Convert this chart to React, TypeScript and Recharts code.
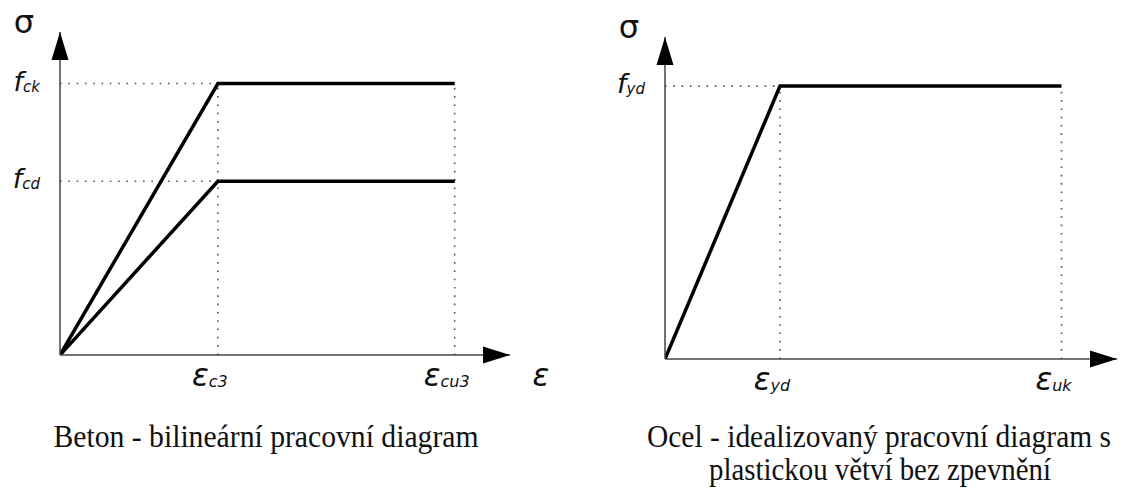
import React from 'react';
import { LineChart, Line, XAxis, YAxis, ReferenceLine, ReferenceDot } from 'recharts';

// Concrete – bilinear stress–strain diagram (normalised units)
const concreteStrain = [0, 0.4, 1.0];
const concreteFck = [0, 1.0, 1.0];
const concreteFcd = [0, 0.64, 0.64];
const concreteStrainTicks = [0.4, 1.0];
const concreteStrainLabels = [['ε', 'c3'], ['ε', 'cu3']];
const concreteStressTicks = [0.64, 1.0];
const concreteStressLabels = [['f', 'cd'], ['f', 'ck']];
const concreteAxisMax = { x: 1.14, y: 1.19 };

// Steel – idealised diagram with a plastic branch, no hardening
const steelStrain = [0, 0.29, 1.0];
const steelFyd = [0, 1.0, 1.0];
const steelStrainTicks = [0.29, 1.0];
const steelStrainLabels = [['ε', 'yd'], ['ε', 'uk']];
const steelStressTicks = [1.0];
const steelStressLabels = [['f', 'yd']];
const steelAxisMax = { x: 1.14, y: 1.18 };

const captionConcrete = ['Beton - bilineární pracovní diagram'];
const captionSteel = ['Ocel - idealizovaný pracovní diagram s', 'plastickou větví bez zpevnění'];

const SYM_FONT = '"DejaVu Sans", sans-serif';
const AXIS_COLOR = '#444';
const GUIDE = { stroke: '#555', strokeWidth: 1.6, strokeDasharray: '1.6 6.7' };

const makeYTick = (ticks: number[], labels: string[][]) => (props: any) => {
  const { x, y, payload } = props;
  const idx = ticks.indexOf(payload.value);
  if (idx < 0) return null;
  const [base, sub] = labels[idx];
  return (
    <text x={x - 20} y={y + 7} textAnchor="end" fontFamily={SYM_FONT} fill="#111">
      <tspan fontSize={27} fontStyle="italic">{base}</tspan>
      <tspan fontSize={15} fontStyle="italic" dy={1}>{sub}</tspan>
    </text>
  );
};

const makeXTick = (ticks: number[], labels: string[][]) => (props: any) => {
  const { x, y, payload } = props;
  const idx = ticks.indexOf(payload.value);
  if (idx < 0) return null;
  const [base, sub] = labels[idx];
  return (
    <text x={x - 8} y={y + 31} textAnchor="middle" fontFamily={SYM_FONT} fill="#111">
      <tspan fontSize={31} fontStyle="italic">{base}</tspan>
      <tspan fontSize={16} fontStyle="italic" dy={1}>{sub}</tspan>
    </text>
  );
};

const ArrowRight = (label?: string) => (props: any) => {
  const { cx, cy } = props;
  return (
    <g>
      <polygon points={`${cx},${cy} ${cx - 27},${cy - 8.5} ${cx - 27},${cy + 8.5}`} fill="#000" />
      {label ? (
        <text x={cx + 31} y={cy + 31} textAnchor="middle" fontFamily={SYM_FONT} fontSize={31} fontStyle="italic" fill="#111">
          {label}
        </text>
      ) : null}
    </g>
  );
};

const ArrowUp = (label: string) => (props: any) => {
  const { cx, cy } = props;
  return (
    <g>
      <polygon points={`${cx},${cy} ${cx - 8.5},${cy + 28} ${cx + 8.5},${cy + 28}`} fill="#000" />
      <text x={cx - 36} y={cy + 1} textAnchor="middle" fontFamily={SYM_FONT} fontSize={32} fill="#111">
        {label}
      </text>
    </g>
  );
};

const ConcreteChart = () => {
  const data = concreteStrain.map((x, i) => ({ x, fck: concreteFck[i], fcd: concreteFcd[i] }));
  const epsC3 = concreteStrainTicks[0];
  const epsCu3 = concreteStrainTicks[1];
  const fck = concreteStressTicks[1];
  const fcd = concreteStressTicks[0];
  return (
    <LineChart width={560} height={495} data={data} margin={{ top: 32, right: 50, left: 20, bottom: 100 }}>
      <XAxis
        dataKey="x"
        type="number"
        domain={[0, concreteAxisMax.x]}
        allowDataOverflow
        ticks={concreteStrainTicks}
        tickLine={false}
        tickSize={0}
        tickMargin={0}
        height={40}
        axisLine={{ stroke: AXIS_COLOR, strokeWidth: 1.5 }}
        tick={makeXTick(concreteStrainTicks, concreteStrainLabels)}
        interval={0}
      />
      <YAxis
        type="number"
        domain={[0, concreteAxisMax.y]}
        allowDataOverflow
        ticks={concreteStressTicks}
        tickLine={false}
        tickSize={0}
        tickMargin={0}
        width={40}
        axisLine={{ stroke: AXIS_COLOR, strokeWidth: 1.5 }}
        tick={makeYTick(concreteStressTicks, concreteStressLabels)}
        interval={0}
      />
      <ReferenceLine segment={[{ x: 0, y: fck }, { x: epsC3, y: fck }]} {...GUIDE} />
      <ReferenceLine segment={[{ x: 0, y: fcd }, { x: epsC3, y: fcd }]} {...GUIDE} />
      <ReferenceLine segment={[{ x: epsC3, y: 0 }, { x: epsC3, y: fck }]} {...GUIDE} />
      <ReferenceLine segment={[{ x: epsCu3, y: 0 }, { x: epsCu3, y: fck }]} {...GUIDE} />
      <Line dataKey="fck" type="linear" stroke="#000" strokeWidth={3.5} dot={false} isAnimationActive={false} />
      <Line dataKey="fcd" type="linear" stroke="#000" strokeWidth={3.5} dot={false} isAnimationActive={false} />
      <ReferenceDot x={concreteAxisMax.x} y={0} r={0} ifOverflow="visible" shape={ArrowRight('ε')} />
      <ReferenceDot x={0} y={concreteAxisMax.y} r={0} ifOverflow="visible" shape={ArrowUp('σ')} />
    </LineChart>
  );
};

const SteelChart = () => {
  const data = steelStrain.map((x, i) => ({ x, fyd: steelFyd[i] }));
  const epsYd = steelStrainTicks[0];
  const epsUk = steelStrainTicks[1];
  const fyd = steelStressTicks[0];
  return (
    <LineChart width={564} height={495} data={data} margin={{ top: 37, right: 7, left: 65, bottom: 96 }}>
      <XAxis
        dataKey="x"
        type="number"
        domain={[0, steelAxisMax.x]}
        allowDataOverflow
        ticks={steelStrainTicks}
        tickLine={false}
        tickSize={0}
        tickMargin={0}
        height={40}
        axisLine={{ stroke: AXIS_COLOR, strokeWidth: 1.5 }}
        tick={makeXTick(steelStrainTicks, steelStrainLabels)}
        interval={0}
      />
      <YAxis
        type="number"
        domain={[0, steelAxisMax.y]}
        allowDataOverflow
        ticks={steelStressTicks}
        tickLine={false}
        tickSize={0}
        tickMargin={0}
        width={40}
        axisLine={{ stroke: AXIS_COLOR, strokeWidth: 1.5 }}
        tick={makeYTick(steelStressTicks, steelStressLabels)}
        interval={0}
      />
      <ReferenceLine segment={[{ x: 0, y: fyd }, { x: epsYd, y: fyd }]} {...GUIDE} />
      <ReferenceLine segment={[{ x: epsYd, y: 0 }, { x: epsYd, y: fyd }]} {...GUIDE} />
      <ReferenceLine segment={[{ x: epsUk, y: 0 }, { x: epsUk, y: fyd }]} {...GUIDE} />
      <Line dataKey="fyd" type="linear" stroke="#000" strokeWidth={3.5} dot={false} isAnimationActive={false} />
      <ReferenceDot x={steelAxisMax.x} y={0} r={0} ifOverflow="visible" shape={ArrowRight()} />
      <ReferenceDot x={0} y={steelAxisMax.y} r={0} ifOverflow="visible" shape={ArrowUp('σ')} />
    </LineChart>
  );
};

const CAPTION_FONT = '"Liberation Serif", "Times New Roman", serif';

// Caption line drawn slightly condensed: narrowed with textLength, stretched a touch vertically
const Caption = ({ x, y, width, text }: { x: number; y: number; width: number; text: string }) => (
  <text
    x={0}
    y={0}
    transform={`translate(${x},${y}) scale(1,1.08)`}
    textAnchor="middle"
    fontFamily={CAPTION_FONT}
    fontSize={29}
    fill="#111"
    textLength={width}
    lengthAdjust="spacingAndGlyphs"
  >
    {text}
  </text>
);

export default function App() {
  return (
    <div style={{ position: 'absolute', left: 0, top: 0, width: 1124, height: 495, background: '#fff', overflow: 'hidden' }}>
      <div style={{ position: 'absolute', left: 0, top: 0 }}>
        <ConcreteChart />
      </div>
      <div style={{ position: 'absolute', left: 560, top: 0 }}>
        <SteelChart />
      </div>
      <svg width={1124} height={495} style={{ position: 'absolute', left: 0, top: 0, pointerEvents: 'none' }}>
        <Caption x={266} y={447} width={425} text={captionConcrete[0]} />
        <Caption x={879} y={447} width={464} text={captionSteel[0]} />
        <Caption x={880} y={480} width={342} text={captionSteel[1]} />
      </svg>
    </div>
  );
}
